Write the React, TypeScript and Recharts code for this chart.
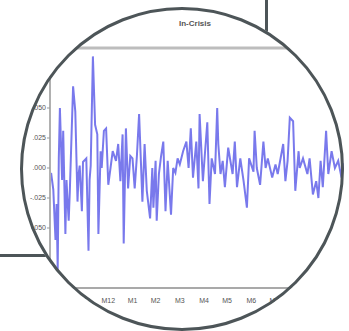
import { Line, LineChart, ReferenceLine, XAxis, YAxis } from "recharts";

// trading-day index and daily return
const days = [
  0, 2, 4, 5, 6, 7, 8, 10, 11, 13, 14, 15, 16, 17, 18, 20, 22, 24, 25, 26, 28, 29,
  32, 34, 35, 36, 38, 40, 42, 43, 45, 46, 48, 50, 52, 54, 56, 59, 61, 63, 65, 66,
  68, 70, 72, 74, 76, 78, 80, 83, 85, 87, 90, 92, 93, 95, 96, 98, 100, 102, 104,
  106, 109, 111, 113, 115, 117, 120, 123, 125, 127, 129, 132, 134, 135, 138, 140,
  142, 144, 146, 149, 151, 152, 154, 156, 158, 161, 165, 167, 169, 172, 175, 178,
  180, 184, 185, 187, 190, 193, 195, 197, 201, 204, 206, 211, 213, 215, 217, 220,
  222, 225, 226, 229, 233, 235, 238, 241, 243, 245, 247, 250, 252, 255, 258, 261,
  264, 266,
];
const returns = [
  -0.004, -0.018, -0.06, -0.03, -0.085, 0.008, 0.05, -0.01, 0.031, -0.055, -0.01,
  -0.028, -0.044, -0.02, 0.01, 0.068, 0.047, -0.028, -0.005, 0.002, -0.036, 0.005,
  0.008, -0.069, -0.01, 0.002, 0.093, 0.036, 0.028, -0.055, 0.014, 0.0, 0.031,
  0.033, -0.014, 0.0, 0.014, 0.006, 0.02, -0.011, 0.028, -0.063, 0.033, -0.017,
  0.01, 0.008, -0.017, 0.01, 0.045, -0.028, 0.02, -0.019, -0.042, 0.0, -0.033,
  0.006, -0.044, -0.005, 0.01, 0.022, -0.036, 0.006, -0.039, 0.0, -0.004, 0.008,
  0.003, 0.014, 0.022, 0.0, 0.033, -0.008, 0.022, -0.017, 0.045, -0.011, 0.014,
  0.038, -0.03, 0.008, -0.005, 0.05, 0.02, -0.005, 0.006, -0.016, 0.017, -0.005,
  0.022, -0.016, 0.008, -0.011, -0.033, 0.008, -0.003, 0.031, 0.0, -0.014, 0.022,
  0.0, 0.008, -0.008, 0.003, -0.005, 0.02, -0.011, 0.006, 0.042, 0.039, -0.019,
  0.014, 0.0, 0.008, -0.005, 0.008, -0.022, -0.011, -0.025, 0.006, -0.016, 0.031,
  -0.005, 0.014, 0.0, 0.006, -0.008, 0.004,
];
const monthTicks = [30, 52, 74, 95, 117, 139, 160, 182, 203];
const monthLabels = ["M11", "M12", "M1", "M2", "M3", "M4", "M5", "M6", "M7"];
const yTicks = [-0.05, -0.025, 0, 0.025, 0.05];

const data = days.map((d, i) => ({ day: d, ret: returns[i] }));

const FONT = "'Liberation Sans', Arial, sans-serif";
const RING = "#4d5558";

const fmtY = (v: number) => {
  const s = Math.abs(v).toFixed(3).replace(/^0/, "");
  return v < 0 ? "-" + s : s;
};
const fmtX = (v: number) => monthLabels[monthTicks.indexOf(v)] ?? "";

export default function App() {
  return (
    <div
      style={{
        position: "absolute",
        left: 0,
        top: 0,
        width: 349,
        height: 331,
        background: "#fff",
        overflow: "hidden",
        fontFamily: FONT,
      }}
    >
      {/* callout frame behind the lens */}
      <div style={{ position: "absolute", left: 265, top: 0, width: 3, height: 40, background: RING }} />
      <div style={{ position: "absolute", left: 0, top: 254, width: 60, height: 3, background: RING }} />

      {/* lens */}
      <div
        style={{
          position: "absolute",
          left: 20,
          top: 7,
          width: 324,
          height: 324,
          borderRadius: "50%",
          overflow: "hidden",
          background: "#fff",
        }}
      >
        <div style={{ position: "absolute", left: -20, top: -7, width: 400, height: 331 }}>
          <div
            style={{
              position: "absolute",
              left: 0,
              top: 19,
              width: 390,
              textAlign: "center",
              fontSize: 8,
              color: "#555",
              fontWeight: 600,
            }}
          >
            In-Crisis
          </div>
          <LineChart
            width={400}
            height={331}
            data={data}
            margin={{ top: 48, right: 20, left: 0, bottom: 23 }}
          >
            <XAxis
              dataKey="day"
              type="number"
              domain={[-1, 299]}
              ticks={monthTicks}
              tickFormatter={fmtX}
              tickLine={false}
              tickMargin={4}
              axisLine={{ stroke: "#a9a9a9", strokeWidth: 2 }}
              tick={{ fill: "#555", fontSize: 7, fontFamily: FONT }}
              height={20}
              interval={0}
            />
            <YAxis
              type="number"
              domain={[-0.1, 0.1]}
              ticks={yTicks}
              tickFormatter={fmtY}
              width={50}
              tickSize={3}
              tickMargin={1}
              tickLine={{ stroke: "#999" }}
              axisLine={{ stroke: "#b0b0b0", strokeWidth: 2 }}
              tick={{ fill: "#555", fontSize: 7, fontFamily: FONT }}
              interval={0}
            />
            <ReferenceLine y={0.1} stroke="#bdbdbd" strokeWidth={3} />
            <Line
              dataKey="ret"
              stroke="#6a6aea"
              strokeWidth={2}
              strokeOpacity={0.9}
              dot={false}
              isAnimationActive={false}
            />
          </LineChart>
        </div>
      </div>
      <div
        style={{
          position: "absolute",
          left: 20,
          top: 7,
          width: 324,
          height: 324,
          borderRadius: "50%",
          border: `3px solid ${RING}`,
          boxSizing: "border-box",
        }}
      />
    </div>
  );
}
